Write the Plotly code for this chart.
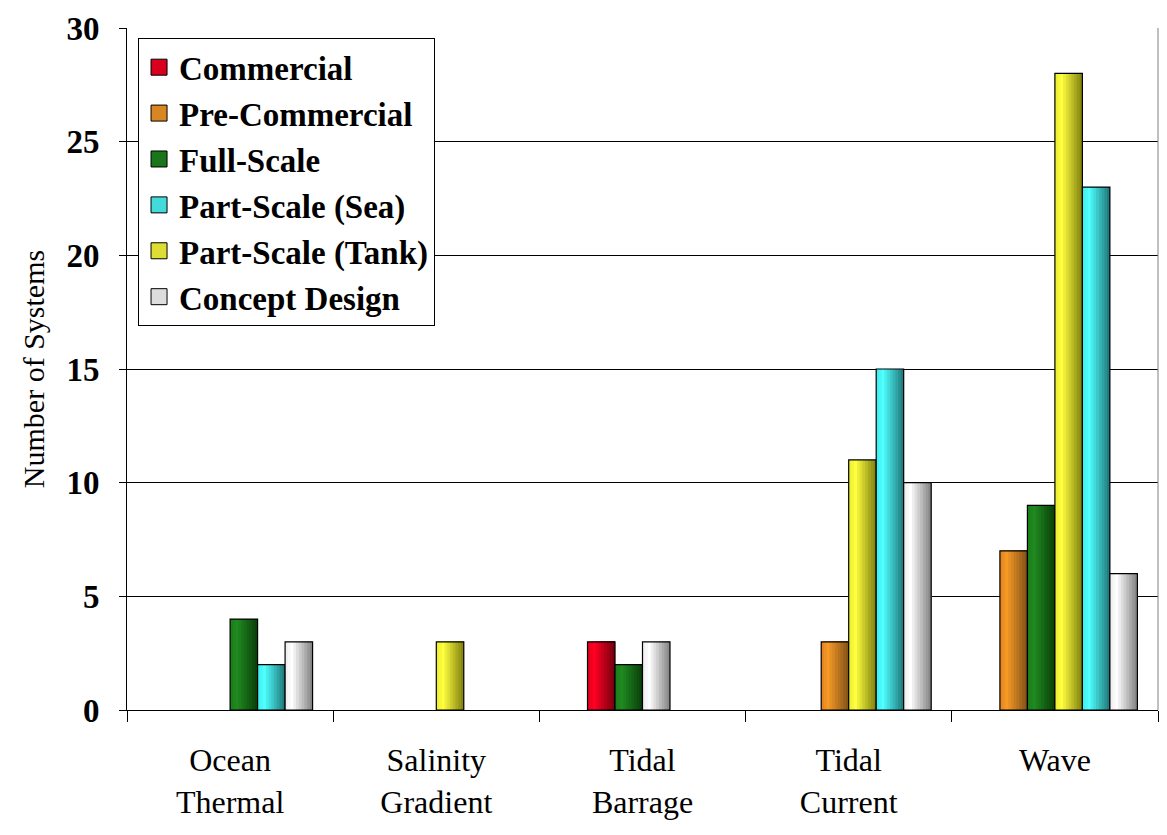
import plotly.graph_objects as go

# ---------------- data ----------------
categories = ["Ocean<br>Thermal", "Salinity<br>Gradient", "Tidal<br>Barrage", "Tidal<br>Current", "Wave"]
series_names = ["Commercial", "Pre-Commercial", "Full-Scale", "Part-Scale (Sea)", "Part-Scale (Tank)", "Concept Design"]
commercial = [0, 0, 3, 0, 0]
pre_commercial = [0, 0, 0, 3, 7]
full_scale = [4, 0, 2, 0, 9]
part_scale_sea = [2, 0, 0, 15, 23]
part_scale_tank = [0, 3, 0, 11, 28]
concept_design = [3, 0, 3, 10, 6]
y_ticks = [0, 5, 10, 15, 20, 25, 30]

# ---------------- styling ----------------
# gradient stops per series: (left, highlight, right)
gradients = {
    "Commercial": ((224, 0, 30), (255, 0, 34), (112, 0, 16)),
    "Pre-Commercial": ((226, 128, 32), (246, 154, 38), (128, 80, 24)),
    "Full-Scale": ((26, 124, 26), (32, 138, 32), (10, 62, 10)),
    "Part-Scale (Sea)": ((64, 236, 236), (80, 255, 255), (30, 116, 118)),
    "Part-Scale (Tank)": ((236, 236, 48), (255, 255, 64), (126, 126, 14)),
    "Concept Design": ((236, 236, 236), (255, 255, 255), (128, 128, 128)),
}
values = {
    "Commercial": commercial,
    "Pre-Commercial": pre_commercial,
    "Full-Scale": full_scale,
    "Part-Scale (Sea)": part_scale_sea,
    "Part-Scale (Tank)": part_scale_tank,
    "Concept Design": concept_design,
}
# left-to-right order of bars inside a category group
bar_order = ["Commercial", "Pre-Commercial", "Full-Scale", "Part-Scale (Tank)", "Part-Scale (Sea)", "Concept Design"]
# non-empty bars are packed side by side starting at this slot (of 6) in each group
group_start_slot = [3, 3, 1, 2, 1]
SLOT_W = 0.8 / 6
N_STRIPS = 10

def mix(a, b, t):
    return tuple(round(a[i] + (b[i] - a[i]) * t) for i in range(3))

def grad_color(name, t):
    c0, c1, c2 = gradients[name]
    if t < 0.25:
        c = mix(c0, c1, t / 0.25)
    else:
        c = mix(c1, c2, (t - 0.25) / 0.75)
    return "rgb(%d,%d,%d)" % c

# compute slot offsets per series per category
offsets = {n: [0.0] * len(categories) for n in bar_order}
for ci in range(len(categories)):
    k = group_start_slot[ci]
    for n in bar_order:
        if values[n][ci]:
            offsets[n][ci] = (k - 3) * SLOT_W
            k += 1

fig = go.Figure()
FONT = "Liberation Serif"

for n in bar_order:
    ys = [v if v else None for v in values[n]]
    for j in range(N_STRIPS):
        fig.add_trace(go.Bar(
            x=categories, y=ys,
            offset=[o + j * SLOT_W / N_STRIPS for o in offsets[n]],
            width=SLOT_W * (1 - j / N_STRIPS),
            marker=dict(color=grad_color(n, (j + 0.5) / N_STRIPS), line=dict(width=0)),
            showlegend=False, hoverinfo="skip",
        ))
    fig.add_trace(go.Bar(
        x=categories, y=ys, offset=offsets[n], width=SLOT_W, name=n,
        marker=dict(color="rgba(0,0,0,0)", line=dict(color="black", width=1.2)),
        showlegend=False,
    ))

# legend entries
for n in series_names:
    fig.add_trace(go.Scatter(
        x=[None], y=[None], mode="markers", name=n,
        marker=dict(symbol="square", size=16, color=grad_color(n, 0.45),
                    line=dict(color="black", width=1)),
    ))

fig.update_layout(
    width=1159, height=827,
    margin=dict(l=119, r=9, t=20, b=125),
    paper_bgcolor="white", plot_bgcolor="white",
    barmode="overlay",
    font=dict(family=FONT, color="black"),
    showlegend=True,
    legend=dict(
        x=0.0107, y=0.985, xanchor="left", yanchor="top",
        bgcolor="white", bordercolor="black", borderwidth=1,
        font=dict(family=FONT, size=33, weight="bold", color="black"),
        itemsizing="trace", tracegroupgap=0, entrywidth=270,
    ),
    xaxis=dict(
        type="category", showline=True, linecolor="black", linewidth=1,
        ticks="outside", tickson="boundaries", ticklen=11, tickcolor="black",
        tickfont=dict(family=FONT, size=32, color="black"),
        showgrid=False, ticklabelstandoff=22, automargin=False,
    ),
    yaxis=dict(
        range=[0, 30], tickvals=y_ticks, showline=True, linecolor="black", linewidth=1,
        ticks="outside", ticklen=7, tickcolor="black",
        showgrid=True, gridcolor="black", gridwidth=1, zeroline=False,
        tickfont=dict(family=FONT, size=33, weight="bold", color="black"),
        ticklabelstandoff=13, automargin=False,
        title=dict(text="Number of Systems", font=dict(family=FONT, size=30, color="black"), standoff=12),
    ),
    shapes=[dict(type="line", xref="paper", yref="paper", x0=1, x1=1, y0=0, y1=1,
                 line=dict(color="#808080", width=1))],
)

fig.write_html("out.html")
